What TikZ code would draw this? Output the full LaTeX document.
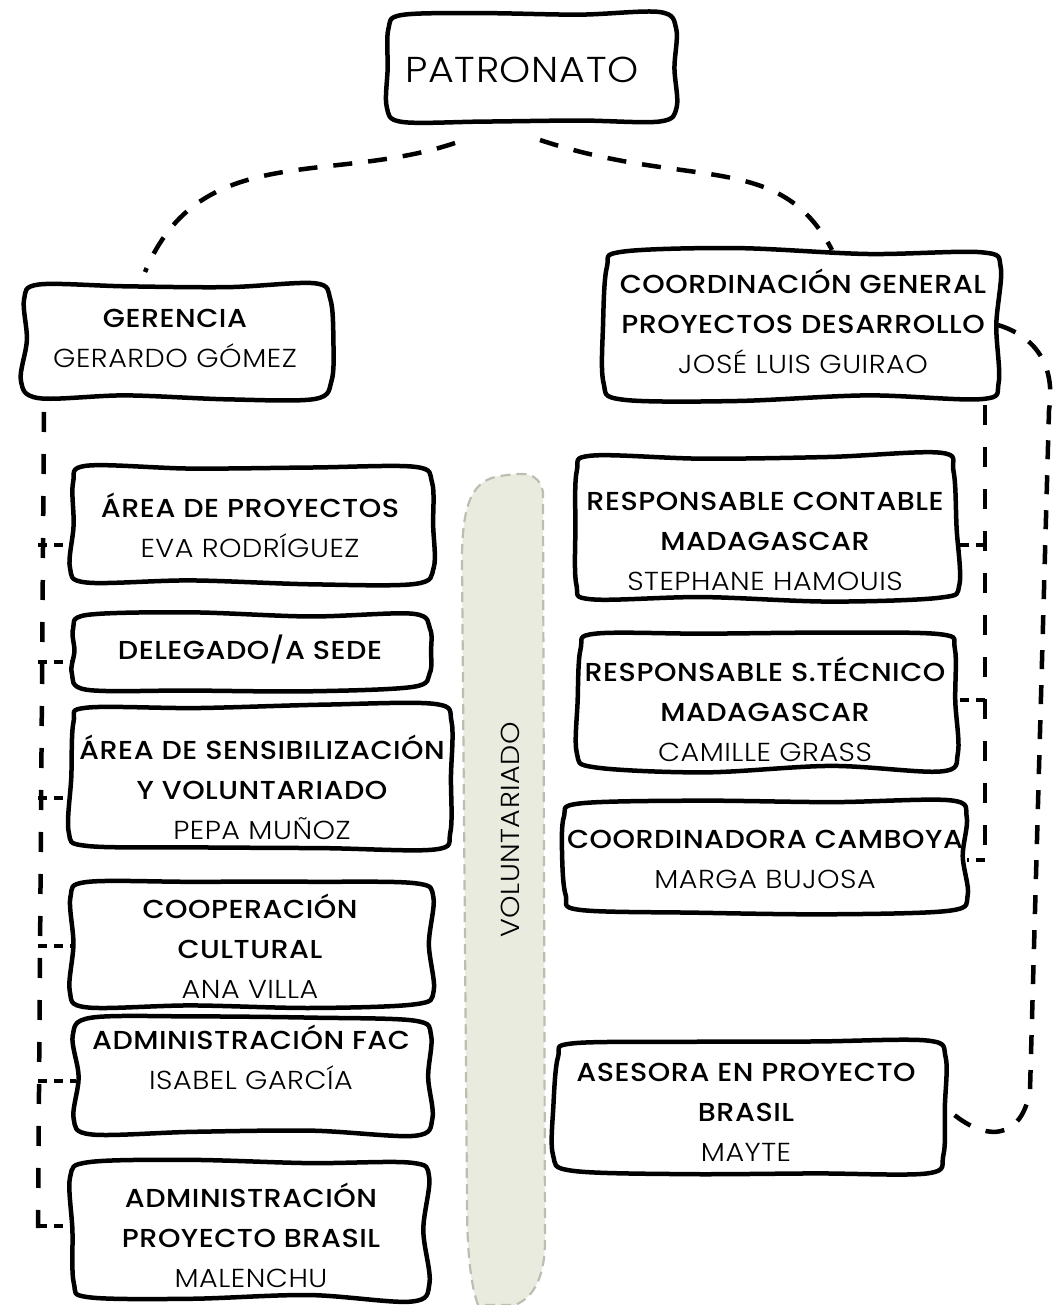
\documentclass[tikz,border=0pt]{standalone}
\usepackage{fontspec}
\IfFontExistsTF{Poppins Light}{%
  \IfFontExistsTF{Poppins Medium}{%
    \setmainfont{Poppins Light}[BoldFont={Poppins Medium}, FakeStretch=1.1, LetterSpace=2]%
  }{%
    \setmainfont{Poppins Light}[BoldFont={Poppins}, FakeStretch=1.1, LetterSpace=2]%
  }%
}{%
  \setmainfont{Poppins}[FakeStretch=1.1, LetterSpace=2]%
}
\usetikzlibrary{calc}
\definecolor{bandfill}{HTML}{E8EBDD}
\definecolor{banddash}{HTML}{BDBEB2}
\tikzset{
  boxline/.style={draw=black, line width=4.5pt, line join=round},
  boxanchor/.style={inner sep=0pt, outer sep=0pt},
  txt/.style={align=center, inner sep=0pt, font=\fontsize{26}{40}\selectfont},
  conn/.style={draw=black, line width=4.5pt, dash pattern=on 19pt off 16pt},
  spine/.style={draw=black, line width=4.5pt, dash pattern=on 20pt off 22pt},
  br/.style={draw=black, line width=4.5pt, dash pattern=on 9pt off 7pt},
}
% wobbly hand-drawn box: name, cx, cy, w, h
\newcommand\hbx[5]{%
  \node[boxanchor, minimum width=#4pt, minimum height=#5pt] (#1) at (#2,#3) {};
  \pgfmathsetmacro\hw{#4/2}\pgfmathsetmacro\hh{#5/2}%
  \pgfmathsetmacro\ja{rand*3}\pgfmathsetmacro\jb{rand*4}\pgfmathsetmacro\jc{rand*4}%
  \pgfmathsetmacro\jd{rand*3}\pgfmathsetmacro\je{rand*3}\pgfmathsetmacro\jf{rand*4}%
  \pgfmathsetmacro\jg{rand*3}\pgfmathsetmacro\jh{rand*3}\pgfmathsetmacro\ji{rand*4}%
  \pgfmathsetmacro\jj{rand*4}\pgfmathsetmacro\jk{rand*3}\pgfmathsetmacro\jl{rand*3}%
  \pgfmathsetmacro\jm{rand*4}\pgfmathsetmacro\jn{rand*3}%
  \begin{scope}[shift={(#2,#3)}]
  \draw[boxline] plot[smooth cycle, tension=0.55] coordinates {
    (-\hw+16,-\hh+\ja) (-\hw/3,-\hh+\jb) (\hw/3,-\hh+\jc) (\hw-16,-\hh+\jd)
    (\hw+\je,-\hh+16) (\hw+\jf,0) (\hw+\jg,\hh-16)
    (\hw-16,\hh+\jh) (\hw/3,\hh+\ji) (-\hw/3,\hh+\jj) (-\hw+16,\hh+\jk)
    (-\hw+\jl,\hh-16) (-\hw+\jm,0) (-\hw+\jn,-\hh+16)};
  \end{scope}
}
\begin{document}
\begin{tikzpicture}[x=1pt,y=-1pt]
\pgfmathsetseed{11}
\useasboundingbox (0,0) rectangle (1060,1305);
% voluntariado band
\path[fill=bandfill, draw=banddash, line width=2.2pt, dash pattern=on 10pt off 6pt]
  (478,1305) .. controls (469,1280) and (467,1240) .. (467,1200)
  -- (462,560) .. controls (462,500) and (474,480) .. (500,476)
  .. controls (522,473) and (538,470) .. (543,492)
  -- (545,1240) .. controls (545,1280) and (532,1298) .. (515,1305) -- cycle;
\node[txt, rotate=90] (vol) at (510,830) {VOLUNTARIADO};

% boxes
\hbx{pat}{531}{68}{290}{110}
\node[txt, font=\fontsize{36}{40}\selectfont] (patt) at (522,70) {PATRONATO};

\hbx{ger}{177}{340}{308}{113}
\node[txt] (gert) at (175,338) {\bfseries GERENCIA\\GERARDO GÓMEZ};

\hbx{coo}{802}{325}{392}{147}
\node[txt] (coot) at (803,321) {\bfseries COORDINACIÓN GENERAL\\\bfseries PROYECTOS DESARROLLO\\JOSÉ LUIS GUIRAO};

\hbx{ap}{251}{525}{360}{117}
\node[txt] (apt) at (250,525) {\bfseries ÁREA DE PROYECTOS\\EVA RODRÍGUEZ};

\hbx{del}{250}{651}{358}{76}
\node[txt] (delt) at (250,649) {\bfseries DELEGADO/A SEDE};

\hbx{sen}{261}{777}{380}{142}
\node[txt] (sent) at (262,787) {\bfseries ÁREA DE SENSIBILIZACIÓN\\\bfseries Y VOLUNTARIADO\\PEPA MUÑOZ};

\hbx{coop}{251}{944}{360}{126}
\node[txt] (coopt) at (250,946) {\bfseries COOPERACIÓN\\\bfseries CULTURAL\\ANA VILLA};

\hbx{fac}{253}{1077}{355}{115}
\node[txt] (fact) at (251,1057) {\bfseries ADMINISTRACIÓN FAC\\ISABEL GARCÍA};

\hbx{bra}{250}{1230}{354}{138}
\node[txt] (brat) at (251,1235) {\bfseries ADMINISTRACIÓN\\\bfseries PROYECTO BRASIL\\MALENCHU};

\hbx{rc}{766}{528}{381}{145}
\node[txt] (rct) at (765,541) {\bfseries RESPONSABLE CONTABLE\\\bfseries MADAGASCAR\\STEPHANE HAMOUIS};

\hbx{st}{768}{701}{378}{136}
\node[txt] (stt) at (765,709) {\bfseries RESPONSABLE S.TÉCNICO\\\bfseries MADAGASCAR\\CAMILLE GRASS};

\hbx{cam}{765}{856}{403}{110}
\node[txt] (camt) at (765,859) {\bfseries COORDINADORA CAMBOYA\\MARGA BUJOSA};

\hbx{ase}{750}{1106}{388}{130}
\node[txt] (aset) at (746,1112) {\bfseries ASESORA EN PROYECTO\\\bfseries BRASIL\\MAYTE};

% connectors from PATRONATO
\coordinate (pl) at (455,143);
\coordinate (pr) at (540,140);
\coordinate (gl) at (145,272);
\coordinate (cr) at (832,250);
\draw[conn] (pl) .. controls (330,185) and (200,140) .. (gl);
\draw[conn] (pr) .. controls (690,190) and (780,150) .. (cr);

% left spine
\coordinate (ltop) at (44,412);
\coordinate (lbot) at (38,1228);
\draw[spine] (ltop) -- (lbot);
\foreach \n/\y in {ap/545, del/662, sen/798, coop/946, fac/1081, bra/1226}{
  \coordinate (b-\n) at (38,\y);
  \draw[br] (b-\n) -- (b-\n -| \n.west);
}

% right spine
\coordinate (rtop) at (985,405);
\coordinate (rbot) at (985,862);
\draw[spine] (rtop) -- (rbot);
\foreach \n/\y in {rc/545, st/700, cam/860}{
  \coordinate (c-\n) at (985,\y);
  \draw[br] (c-\n) -- (c-\n -| \n.east);
}

% far right loop to ASESORA
\coordinate (fr1) at (1049,410);
\coordinate (fr2) at (1030,1090);
\draw[conn] (coo.east) .. controls (1040,338) and (1055,370) .. (fr1)
  -- (fr2) .. controls (1022,1140) and (985,1145) .. (ase.east);
\end{tikzpicture}
\end{document}
